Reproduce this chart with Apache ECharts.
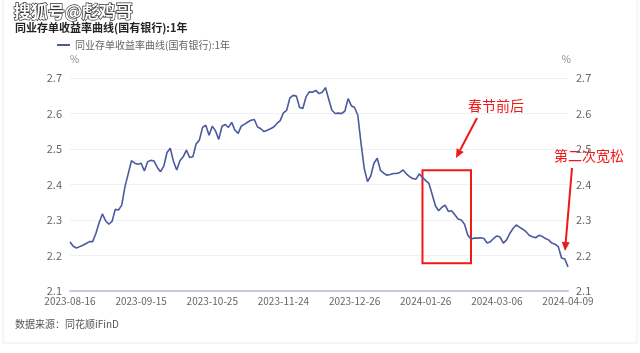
<!DOCTYPE html>
<html>
<head>
<meta charset="utf-8">
<script src="https://cdn.jsdelivr.net/npm/echarts@6/dist/echarts.min.js"></script>
<style>
  html, body { margin: 0; padding: 0; background: #fff; }
  #grafiek { width: 640px; height: 353px; }
</style>
</head>
<body>
<div id="grafiek"></div>
<script>
// start- en einddatum, beursvakanties (geen handel)
let startDatum = '2023-08-16';
let eindDatum = '2024-04-09';
let vakantie = ['2023-09-29', '2023-10-02', '2023-10-03', '2023-10-04', '2023-10-05', '2023-10-06',
    '2024-01-01', '2024-02-09', '2024-02-12', '2024-02-13', '2024-02-14', '2024-02-15', '2024-02-16',
    '2024-04-04', '2024-04-05'];

// rendement (%) per handelsdag
let rendement = [
    2.238, 2.226, 2.221, 2.225, 2.229, 2.234, 2.239, 2.239, 2.262, 2.292,
    2.317, 2.298, 2.288, 2.296, 2.330, 2.328, 2.342, 2.394, 2.430, 2.467,
    2.460, 2.457, 2.460, 2.438, 2.464, 2.468, 2.466, 2.448, 2.436, 2.452,
    2.490, 2.502, 2.465, 2.441, 2.467, 2.478, 2.497, 2.476, 2.478, 2.514,
    2.525, 2.561, 2.567, 2.539, 2.564, 2.551, 2.527, 2.564, 2.569, 2.561,
    2.575, 2.553, 2.544, 2.565, 2.570, 2.576, 2.581, 2.583, 2.562, 2.557,
    2.549, 2.553, 2.557, 2.562, 2.572, 2.580, 2.602, 2.609, 2.644, 2.651,
    2.649, 2.617, 2.614, 2.647, 2.661, 2.660, 2.665, 2.656, 2.660, 2.673,
    2.640, 2.609, 2.600, 2.601, 2.600, 2.607, 2.642, 2.622, 2.617, 2.595,
    2.516, 2.445, 2.408, 2.424, 2.460, 2.474, 2.440, 2.432, 2.426, 2.428,
    2.431, 2.431, 2.434, 2.441, 2.430, 2.422, 2.417, 2.415, 2.430, 2.420,
    2.411, 2.403, 2.372, 2.340, 2.326, 2.336, 2.342, 2.324, 2.326, 2.315,
    2.303, 2.300, 2.288, 2.258, 2.246, 2.249, 2.249, 2.250, 2.248, 2.235,
    2.239, 2.248, 2.255, 2.252, 2.235, 2.244, 2.262, 2.276, 2.286, 2.280,
    2.274, 2.267, 2.257, 2.253, 2.250, 2.257, 2.254, 2.248, 2.244, 2.235,
    2.232, 2.225, 2.193, 2.190, 2.168
];

let reeksNaam = '同业存单收益率曲线(国有银行):1年';
let yTicks = [2.1, 2.2, 2.3, 2.4, 2.5, 2.6, 2.7];

// annotaties in datacoordinaten: [index, waarde]
let kaderVan = [108.9, 2.44];
let kaderTot = [124.3, 2.178];

function handelsdagen() {
    let dagen = [];
    let d = new Date(startDatum + 'T00:00:00Z');
    let eind = new Date(eindDatum + 'T00:00:00Z');
    while (d <= eind) {
        let s = d.toISOString().slice(0, 10);
        let wd = d.getUTCDay();
        if (wd !== 0 && wd !== 6 && vakantie.indexOf(s) < 0) dagen.push(s);
        d.setUTCDate(d.getUTCDate() + 1);
    }
    return dagen;
}

function toonGrafiek() {
    let grafiek = echarts.init(document.getElementById('grafiek'));
    let datums = handelsdagen();
    let font = "'Noto Sans CJK SC', 'Noto Sans', sans-serif";
    let yAs = {
        type: 'value',
        min: yTicks[0],
        max: yTicks[yTicks.length - 1],
        interval: 0.1,
        name: '%',
        nameGap: 14,
        nameTextStyle: { color: '#888', fontSize: 10, fontFamily: font },
        axisLine: { show: false },
        axisTick: { show: false },
        axisLabel: { color: '#666', fontSize: 11, fontFamily: font, margin: 8,
            formatter: v => v.toFixed(1) }
    };
    let option = {
        backgroundColor: '#fff',
        animation: false,
        title: {
            text: reeksNaam,
            left: 10, top: 17,
            textStyle: { fontSize: 11, fontWeight: 'bold', color: '#222', fontFamily: font }
        },
        legend: {
            data: [reeksNaam],
            left: 52, top: 35,
            icon: 'rect', itemWidth: 13, itemHeight: 2, itemGap: 4,
            textStyle: { color: '#666', fontSize: 10, fontFamily: font }
        },
        grid: { left: 70, right: 72, top: 78, bottom: 62 },
        xAxis: {
            type: 'category',
            data: datums,
            boundaryGap: false,
            axisLine: { lineStyle: { color: '#c5c9df', width: 2 } },
            axisTick: { show: false },
            axisLabel: { interval: 21, color: '#666', fontSize: 10, fontFamily: font, margin: 5 }
        },
        yAxis: [
            Object.assign({}, yAs, {
                position: 'left',
                nameTextStyle: Object.assign({}, yAs.nameTextStyle, { align: 'left', padding: [0, 0, 0, 0] }),
                splitLine: { lineStyle: { color: '#eef0f7', width: 1 } }
            }),
            Object.assign({}, yAs, {
                position: 'right',
                nameTextStyle: Object.assign({}, yAs.nameTextStyle, { align: 'right', padding: [0, -3, 0, 0] }),
                splitLine: { show: false }
            })
        ],
        series: [
            {
                name: reeksNaam,
                type: 'line',
                data: rendement,
                showSymbol: false,
                symbol: 'none',
                lineStyle: { color: '#4b5a9e', width: 1.6 },
                itemStyle: { color: '#4b5a9e' }
            }
        ]
    };
    grafiek.setOption(option);

    // annotaties plaatsen
    let p1 = grafiek.convertToPixel({ gridIndex: 0 }, kaderVan);
    let p2 = grafiek.convertToPixel({ gridIndex: 0 }, kaderTot);
    let rood = '#f01818';
    function pijl(x1, y1, x2, y2) {
        let hoek = Math.atan2(y2 - y1, x2 - x1);
        let l = 9, b = 4;
        let bx = x2 - l * Math.cos(hoek), by = y2 - l * Math.sin(hoek);
        let nx = -Math.sin(hoek) * b, ny = Math.cos(hoek) * b;
        return [
            { type: 'line', shape: { x1: x1, y1: y1, x2: bx, y2: by }, style: { stroke: rood, lineWidth: 2 } },
            { type: 'polygon', shape: { points: [[x2, y2], [bx + nx, by + ny], [bx - nx, by - ny]] }, style: { fill: rood } }
        ];
    }
    let elementen = [
        { type: 'rect', shape: { x: 3, y: -2, width: 634, height: 345 },
          style: { fill: 'none', stroke: '#ececec', lineWidth: 1 }, silent: true },
        { type: 'rect', shape: { x: p1[0], y: p1[1], width: p2[0] - p1[0], height: p2[1] - p1[1] },
          style: { fill: 'none', stroke: rood, lineWidth: 2 } },
        { type: 'text', left: 468, top: 99,
          style: { text: '春节前后', fill: rood, fontSize: 14, fontFamily: font } },
        { type: 'text', left: 554, top: 149,
          style: { text: '第二次宽松', fill: rood, fontSize: 14, fontFamily: font } },
        { type: 'text', left: 15, top: 319,
          style: { text: '数据来源：同花顺iFinD', fill: '#555', fontSize: 10, fontFamily: font } },
        { type: 'text', left: 13, top: 2,
          style: { text: '搜狐号@彪鸡哥', fill: '#fff', stroke: '#333', lineWidth: 1.4,
                   fontSize: 17, fontWeight: 'bold', fontFamily: font } }
    ];
    elementen = elementen.concat(pijl(477, 118, 456, 158), pijl(572, 168, 565, 251));
    grafiek.setOption({ graphic: elementen });
}

window.onload = function () {
    if (document.getElementById('grafiek')) {
        toonGrafiek();
    } else {
        console.error("Element #grafiek niet gevonden!");
    }
};
</script>
</body>
</html>
